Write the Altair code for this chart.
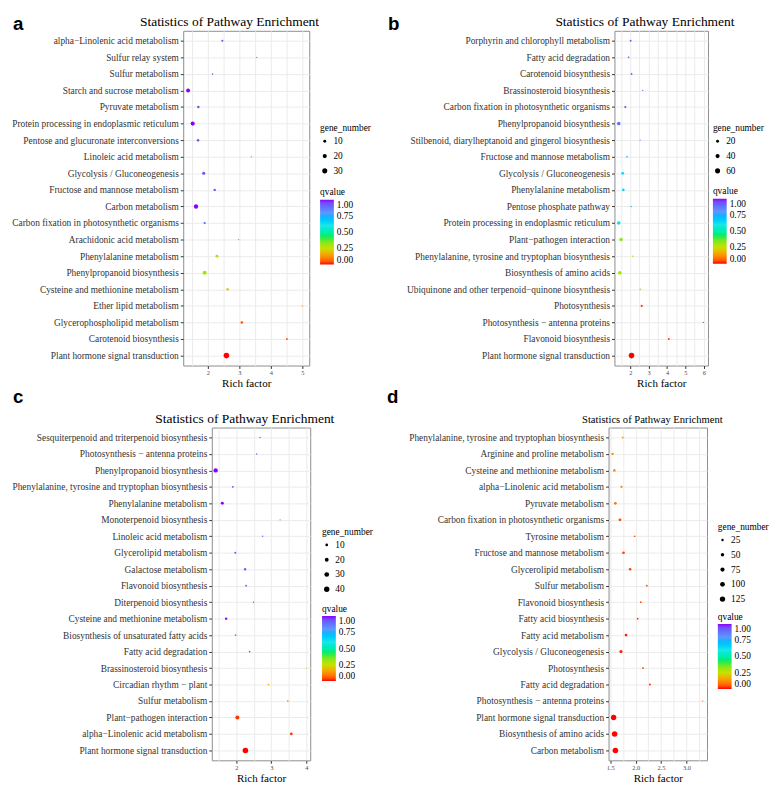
import altair as alt
import pandas as pd

FONT = "Liberation Serif"

# ---------------- data ----------------
a_pathways = ["alpha−Linolenic acid metabolism", "Sulfur relay system", "Sulfur metabolism",
              "Starch and sucrose metabolism", "Pyruvate metabolism",
              "Protein processing in endoplasmic reticulum", "Pentose and glucuronate interconversions",
              "Linoleic acid metabolism", "Glycolysis / Gluconeogenesis", "Fructose and mannose metabolism",
              "Carbon metabolism", "Carbon fixation in photosynthetic organisms", "Arachidonic acid metabolism",
              "Phenylalanine metabolism", "Phenylpropanoid biosynthesis", "Cysteine and methionine metabolism",
              "Ether lipid metabolism", "Glycerophospholipid metabolism", "Carotenoid biosynthesis",
              "Plant hormone signal transduction"]
a_rich = [2.46, 3.55, 2.15, 1.375, 1.70, 1.52, 1.69, 3.38, 1.87, 2.22, 1.625, 1.90, 2.98, 2.29, 1.90,
          2.625, 5.0, 3.08, 4.51, 2.59]
a_genes = [5, 2, 3, 18, 7, 20, 7, 2, 11, 7, 22, 6, 2, 10, 20, 8, 2, 8, 5, 36]
a_q = [0.95, 0.9, 0.95, 1.0, 0.95, 1.0, 0.95, 0.9, 0.95, 0.93, 1.0, 0.9, 0.85, 0.3, 0.3, 0.22, 0.1,
       0.05, 0.05, 0.0]

b_pathways = ["Porphyrin and chlorophyll metabolism", "Fatty acid degradation", "Carotenoid biosynthesis",
              "Brassinosteroid biosynthesis", "Carbon fixation in photosynthetic organisms",
              "Phenylpropanoid biosynthesis", "Stilbenoid, diarylheptanoid and gingerol biosynthesis",
              "Fructose and mannose metabolism", "Glycolysis / Gluconeogenesis", "Phenylalanine metabolism",
              "Pentose phosphate pathway", "Protein processing in endoplasmic reticulum",
              "Plant−pathogen interaction", "Phenylalanine, tyrosine and tryptophan biosynthesis",
              "Biosynthesis of amino acids", "Ubiquinone and other terpenoid−quinone biosynthesis",
              "Photosynthesis", "Photosynthesis − antenna proteins", "Flavonoid biosynthesis",
              "Plant hormone signal transduction"]
b_rich = [2.02, 1.91, 2.07, 2.68, 1.73, 1.375, 2.54, 1.82, 1.59, 1.625, 2.05, 1.375, 1.5, 2.14, 1.43,
          2.54, 2.625, 5.98, 4.1, 2.07]
b_genes = [8, 7, 8, 4, 12, 30, 4, 7, 17, 16, 6, 30, 28, 6, 32, 6, 12, 4, 9, 72]
b_q = [0.95, 0.95, 0.95, 0.9, 0.9, 0.88, 0.8, 0.75, 0.65, 0.65, 0.65, 0.58, 0.33, 0.3, 0.3, 0.15,
       0.03, 0.03, 0.02, 0.0]

c_pathways = ["Sesquiterpenoid and triterpenoid biosynthesis", "Photosynthesis − antenna proteins",
              "Phenylpropanoid biosynthesis", "Phenylalanine, tyrosine and tryptophan biosynthesis",
              "Phenylalanine metabolism", "Monoterpenoid biosynthesis", "Linoleic acid metabolism",
              "Glycerolipid metabolism", "Galactose metabolism", "Flavonoid biosynthesis",
              "Diterpenoid biosynthesis", "Cysteine and methionine metabolism",
              "Biosynthesis of unsaturated fatty acids", "Fatty acid degradation",
              "Brassinosteroid biosynthesis", "Circadian rhythm − plant", "Sulfur metabolism",
              "Plant−pathogen interaction", "alpha−Linolenic acid metabolism",
              "Plant hormone signal transduction"]
c_rich = [2.68, 2.58, 1.41, 1.90, 1.60, 3.25, 2.75, 1.97, 2.25, 2.28, 2.49, 1.71, 1.98, 2.38, 4.0,
          2.92, 3.47, 2.03, 3.57, 2.26]
c_genes = [3, 3, 26, 5, 12, 2, 3, 6, 8, 5, 3, 8, 4, 4, 2, 4, 4, 22, 10, 42]
c_q = [0.9, 0.9, 1.0, 0.95, 1.0, 0.85, 0.9, 0.92, 0.92, 0.9, 0.9, 1.0, 0.88, 0.9, 0.25, 0.2, 0.1,
       0.02, 0.02, 0.0]

d_pathways = ["Phenylalanine, tyrosine and tryptophan biosynthesis", "Arginine and proline metabolism",
              "Cysteine and methionine metabolism", "alpha−Linolenic acid metabolism",
              "Pyruvate metabolism", "Carbon fixation in photosynthetic organisms", "Tyrosine metabolism",
              "Fructose and mannose metabolism", "Glycerolipid metabolism", "Sulfur metabolism",
              "Flavonoid biosynthesis", "Fatty acid biosynthesis", "Fatty acid metabolism",
              "Glycolysis / Gluconeogenesis", "Photosynthesis", "Fatty acid degradation",
              "Photosynthesis − antenna proteins", "Plant hormone signal transduction",
              "Biosynthesis of amino acids", "Carbon metabolism"]
d_rich = [1.745, 1.545, 1.58, 1.72, 1.60, 1.69, 1.98, 1.76, 1.89, 2.22, 2.10, 2.04, 1.81, 1.71, 2.145,
          2.28, 3.32, 1.565, 1.585, 1.60]
d_genes = [15, 25, 28, 20, 30, 35, 12, 30, 28, 12, 12, 12, 32, 45, 15, 18, 6, 125, 130, 135]
d_q = [0.15, 0.13, 0.12, 0.1, 0.08, 0.04, 0.04, 0.03, 0.03, 0.03, 0.03, 0.02, 0.01, 0.01, 0.02, 0.02,
       0.05, 0.0, 0.0, 0.0]

TITLE = "Statistics of Pathway Enrichment"
Q_DOMAIN = [0, 0.12, 0.25, 0.4, 0.6, 0.8, 1.0]
Q_RANGE = ["#FF0000", "#FF8C00", "#C8E000", "#3CEB3C", "#1EE6E6", "#6495FF", "#8A00FF"]


def panel(pathways, rich, genes, q, width, height, xdom, xvals, labexpr, minor_test, size_vals,
          size_pos, size_pad, q_pos, title_dx, title_size, letter, letter_xy):
    df = pd.DataFrame({"pathway": pathways, "rich": rich, "genes": genes, "q": q})
    pts = alt.Chart(df).mark_circle(opacity=1).encode(
        x=alt.X("rich:Q", scale=alt.Scale(domain=xdom, nice=False, zero=False),
                axis=alt.Axis(title="Rich factor", values=xvals, labelExpr=labexpr,
                              tickOpacity={"condition": {"test": minor_test, "value": 0}, "value": 1},
                              grid=True, gridColor="#EBEBEB", domain=False, tickColor="#333333",
                              tickSize=3, labelFont=FONT, labelFontSize=6.5, labelColor="#4D4D4D",
                              labelPadding=1, titleFont=FONT, titleFontSize=11.2,
                              titleFontWeight="normal", titleColor="black", titlePadding=2,
                              labelFlush=False, labelOverlap=False)),
        y=alt.Y("pathway:N", sort=pathways, scale=alt.Scale(type="point", padding=0.6),
                axis=alt.Axis(title=None, grid=True, gridColor="#EBEBEB", domain=False,
                              tickColor="#333333", tickSize=3, labelFont=FONT, labelFontSize=9.5,
                              labelColor="#333333", labelPadding=2, labelLimit=500)),
        size=alt.Size("genes:Q", scale=alt.Scale(zero=False, range=[1.5, 32]),
                      legend=alt.Legend(title="gene_number", values=size_vals, orient="none",
                                        legendX=size_pos[0] - size_pad,
                                        legendY=size_pos[1] - size_pad, padding=size_pad,
                                        titleFont=FONT, titleFontSize=9.5, titleFontWeight="normal",
                                        titleColor="black", labelFont=FONT, labelFontSize=9.5,
                                        labelColor="black", symbolFillColor="black",
                                        symbolStrokeColor="black", symbolStrokeWidth=0,
                                        symbolType="circle", symbolOpacity=1, rowPadding=4,
                                        titlePadding=4, labelOffset=4)),
        color=alt.Color("q:Q", scale=alt.Scale(domain=Q_DOMAIN, range=Q_RANGE),
                        legend=alt.Legend(title="qvalue", values=[0, 0.25, 0.5, 0.75, 1.0],
                                          format=".2f", orient="none", legendX=q_pos[0],
                                          legendY=q_pos[1], padding=0, direction="vertical",
                                          gradientLength=66, gradientThickness=14,
                                          gradientStrokeWidth=0, titleFont=FONT, titleFontSize=9.5,
                                          titleFontWeight="normal", titleColor="black",
                                          labelFont=FONT, labelFontSize=9.5, labelColor="black",
                                          titlePadding=3, labelOffset=3)),
    )
    let = alt.Chart(pd.DataFrame({"t": [letter]})).mark_text(
        font="Liberation Sans", fontWeight="bold", fontSize=19, align="left", baseline="alphabetic",
        color="black").encode(x=alt.value(letter_xy[0]), y=alt.value(letter_xy[1]), text="t:N")
    ttl = alt.Chart(pd.DataFrame({"t": [TITLE]})).mark_text(
        font=FONT, fontSize=title_size, align="center", baseline="alphabetic", color="black"
    ).encode(x=alt.value(width / 2 + title_dx), y=alt.value(-5), text="t:N")
    return alt.layer(pts, let, ttl).properties(
        width=width, height=height,
        view=alt.ViewBackground(stroke="#8C8C8C", strokeWidth=1),
    )


def spacer(h):
    return alt.Chart(alt.Data(values=[])).mark_point().encode(
        x=alt.X("v:Q", axis=None), y=alt.Y("v:Q", axis=None)
    ).properties(width=1, height=h, view=alt.ViewBackground(stroke="transparent"))


INT_LABEL = "datum.value % 1 === 0 ? format(datum.value, 'd') : ''"
INT_MINOR = "datum.value % 1 !== 0"

H1, H2 = 340, 338

pa = panel(a_pathways, a_rich, a_genes, a_q, 128, H1, [1.22, 5.22],
           [1.5, 2, 2.5, 3, 3.5, 4, 4.5, 5], INT_LABEL, INT_MINOR, [10, 20, 30],
           (139, 94), 15, (139, 159), -17, 13.7, "a", (-173, -1))
pb = panel(b_pathways, b_rich, b_genes, b_q, 95, H1, [1.14, 6.23],
           [1.5, 2, 2.5, 3, 3.5, 4, 4.5, 5, 5.5, 6], INT_LABEL, INT_MINOR, [20, 40, 60],
           (100, 94), 0, (100, 158), -16.5, 13.7, "b", (-230, -1))
pc = panel(c_pathways, c_rich, c_genes, c_q, 100, H2, [1.30, 4.11],
           [1.5, 2, 2.5, 3, 3.5, 4], INT_LABEL, INT_MINOR, [10, 20, 30, 40],
           (112, 101), 12, (112, 179), -16.5, 13.7, "c", (-202, -25))
pd_ = panel(d_pathways, d_rich, d_genes, d_q, 100, H2, [1.465, 3.405],
            [1.5, 1.75, 2, 2.25, 2.5, 2.75, 3, 3.25],
            "(datum.value * 2) % 1 === 0 ? format(datum.value, '.1f') : ''",
            "(datum.value * 2) % 1 !== 0", [25, 50, 75, 100, 125],
            (111, 96), 0, (111, 187), -5.5, 10.75, "d", (-225, -25))

IND = dict(color="independent", size="independent", x="independent", y="independent")

row1 = alt.concat(spacer(H1), pa, pb, columns=3, spacing=0, align="each").resolve_scale(**IND)
row2 = alt.concat(spacer(H2), pc, pd_, columns=3, spacing=0, align="each").resolve_scale(**IND)

chart = alt.concat(row1, row2, columns=1, spacing=-3, align="each").resolve_scale(**IND).properties(
    padding=0
).configure(background="white")

chart.save("out.html", embed_options={"renderer": "svg", "actions": False})
